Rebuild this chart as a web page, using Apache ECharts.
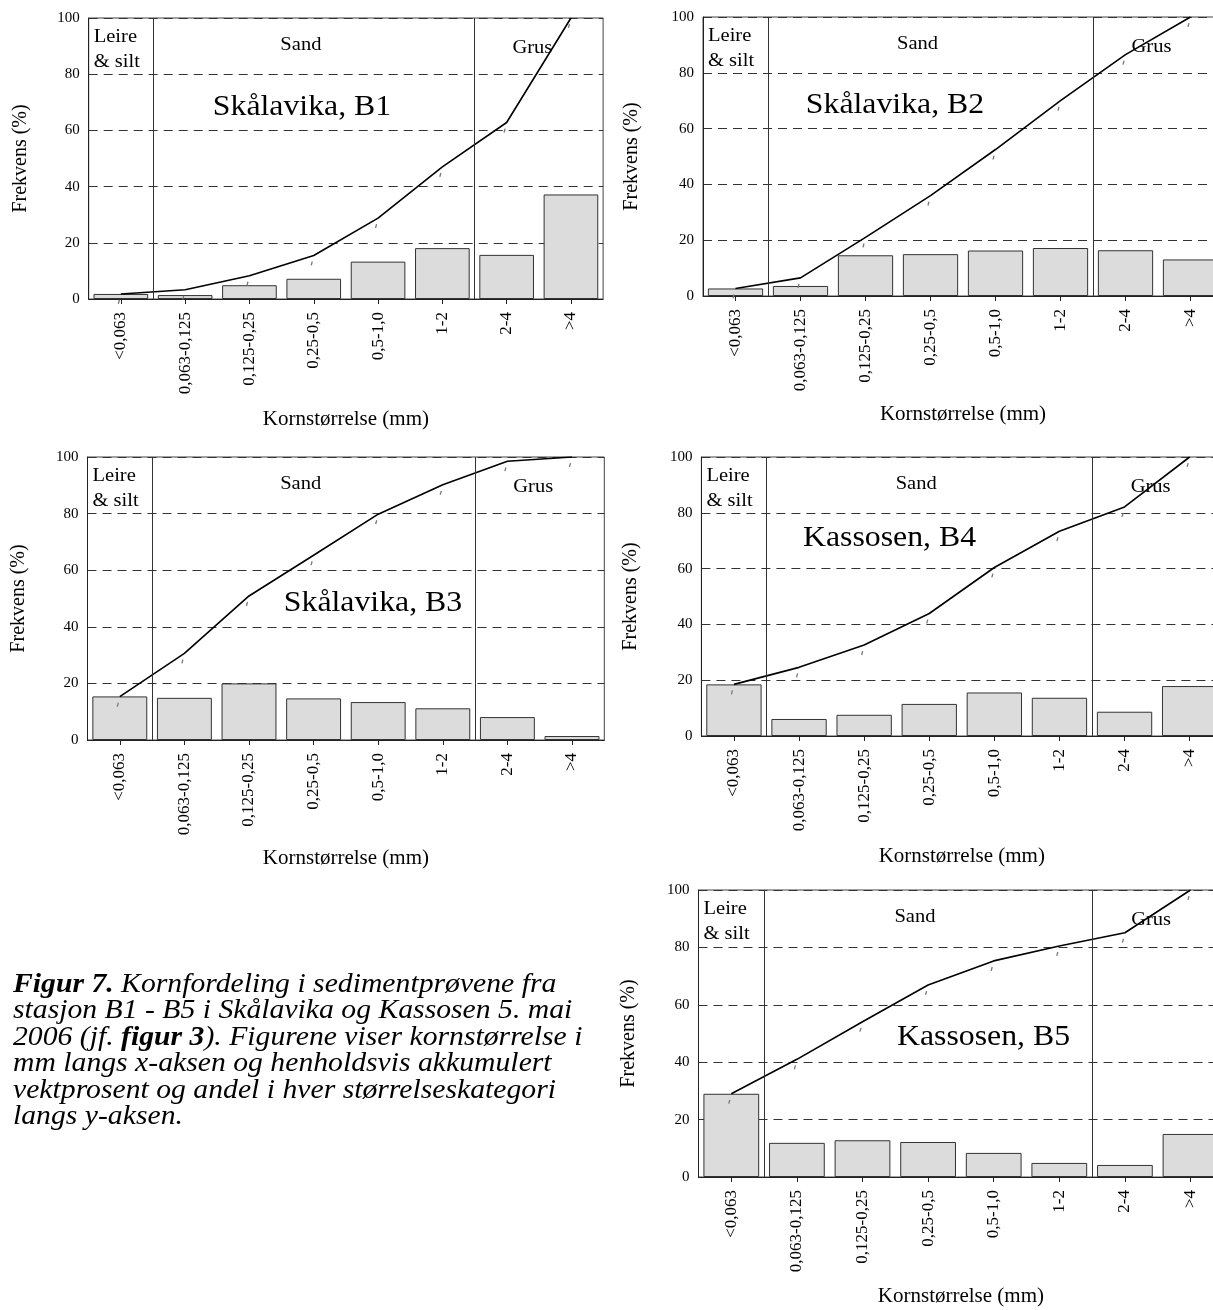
<!DOCTYPE html>
<html>
<head>
<meta charset="utf-8">
<script src="https://cdn.jsdelivr.net/npm/echarts@6/dist/echarts.min.js"></script>
<style>
html,body{margin:0;padding:0;background:#fff;}
#chart{width:1213px;height:1310px;}
</style>
</head>
<body>
<div id="chart"></div>
<script>
// ---- data ----
const categories = ['<0,063', '0,063-0,125', '0,125-0,25', '0,25-0,5', '0,5-1,0', '1-2', '2-4', '>4'];
const stations = ['Skålavika, B1', 'Skålavika, B2', 'Skålavika, B3', 'Kassosen, B4', 'Kassosen, B5'];
const b1Bars = [1.8, 1.4, 4.9, 7.2, 13.3, 18.1, 15.7, 37.2];
const b1Cum  = [1.8, 3.3, 8.3, 15.5, 28.8, 47.0, 62.8, 100];
const b2Bars = [2.7, 3.6, 14.6, 15.0, 16.3, 17.2, 16.4, 13.1];
const b2Cum  = [2.7, 6.5, 21.0, 36.0, 52.5, 70.0, 86.5, 100];
const b3Bars = [15.4, 14.9, 20.0, 14.7, 13.4, 11.2, 8.1, 1.4];
const b3Cum  = [15.3, 30.6, 50.9, 65.3, 79.8, 90.2, 98.5, 100];
const b4Bars = [18.5, 6.1, 7.6, 11.5, 15.6, 13.7, 8.7, 17.9];
const b4Cum  = [18.5, 24.6, 32.6, 43.9, 60.4, 73.4, 82.1, 100];
const b5Bars = [29.0, 11.9, 12.8, 12.2, 8.4, 4.9, 4.2, 15.0];
const b5Cum  = [29.0, 41.0, 54.1, 66.9, 75.3, 80.5, 85.1, 100];
const classBoundaries = [1, 6];          // Leire & silt | Sand | Grus (in category units)
const yTicks = [0, 20, 40, 60, 80, 100];
const xAxisName = 'Kornstørrelse (mm)';
const yAxisName = 'Frekvens (%)';
const classLabels = ['Leire', '& silt', 'Sand', 'Grus'];
const captionLines = [
  '{b|Figur 7.} Kornfordeling i sedimentprøvene fra',
  'stasjon B1 - B5 i Skålavika og Kassosen 5. mai',
  '2006 (jf. {b|figur 3}). Figurene viser kornstørrelse i',
  'mm langs x-aksen og henholdsvis akkumulert',
  'vektprosent og andel i hver størrelseskategori',
  'langs y-aksen.'
];
const barSets = [b1Bars, b2Bars, b3Bars, b4Bars, b5Bars];
const cumSets = [b1Cum, b2Cum, b3Cum, b4Cum, b5Cum];

// ---- layout (pixels) ----
const FONT = "'Liberation Serif','Times New Roman',serif";
const panels = [
  {left: 88.7, top: 18,  width: 514.4, height: 281, title: [302, 107],   xGap: 110, yGap: 58},
  {left: 703,  top: 17,  width: 520,   height: 279, title: [895, 105],   xGap: 108, yGap: 61},
  {left: 87.5, top: 457, width: 516.8, height: 283, title: [373, 603],   xGap: 108, yGap: 59},
  {left: 701.4,top: 457, width: 520.8, height: 279, title: [889.5, 538], xGap: 110, yGap: 61},
  {left: 698.5,top: 890, width: 524.8, height: 287, title: [983.5, 1037],xGap: 109, yGap: 60}
];

const grids = [], xAxes = [], yAxes = [], series = [], graphics = [];
panels.forEach((p, i) => {
  grids.push({left: p.left, top: p.top, width: p.width, height: p.height,
    containLabel: false, outerBoundsMode: 'none',
    show: true, borderColor: '#444', borderWidth: 1, backgroundColor: 'transparent'});
  // category axis
  xAxes.push({
    type: 'category', gridIndex: i, data: categories,
    axisLine: {show: true, lineStyle: {color: '#222', width: 1}},
    axisTick: {show: true, alignWithLabel: true, length: 5, lineStyle: {color: '#222'}},
    axisLabel: {rotate: 90, fontSize: 17, fontFamily: FONT, color: '#000', margin: 13, interval: 0},
    name: xAxisName, nameLocation: 'middle', nameGap: p.xGap,
    nameTextStyle: {fontSize: 21, fontFamily: FONT, color: '#000'},
    splitLine: {show: false}
  });
  // hidden value axis for class boundary lines
  xAxes.push({type: 'value', gridIndex: i, min: 0, max: categories.length, show: false});
  yAxes.push({
    type: 'value', gridIndex: i, min: yTicks[0], max: yTicks[yTicks.length - 1], interval: 20,
    axisLine: {show: true, lineStyle: {color: '#222', width: 1}},
    axisTick: {show: false},
    axisLabel: {fontSize: 15, fontFamily: FONT, color: '#000', margin: 9},
    splitLine: {show: true, lineStyle: {color: '#333', type: [9, 6], width: 1}},
    name: yAxisName, nameLocation: 'middle', nameGap: p.yGap,
    nameTextStyle: {fontSize: 20, fontFamily: FONT, color: '#000'}
  });
  series.push({
    type: 'bar', xAxisIndex: 2 * i, yAxisIndex: i, data: barSets[i],
    barCategoryGap: '15%',
    itemStyle: {color: '#dcdcdc', borderColor: '#333', borderWidth: 1},
    silent: true, z: 2
  });
  series.push({
    type: 'line', xAxisIndex: 2 * i, yAxisIndex: i, data: cumSets[i],
    lineStyle: {color: '#000', width: 1.6},
    symbol: 'rect', symbolSize: [1.3, 4], symbolOffset: [-2, 8], symbolRotate: -15,
    itemStyle: {color: '#777'}, showSymbol: true,
    silent: true, z: 4, animation: false
  });
  series.push({
    type: 'line', xAxisIndex: 2 * i + 1, yAxisIndex: i, data: [],
    markLine: {
      symbol: 'none', silent: true, label: {show: false},
      lineStyle: {color: '#333', type: 'solid', width: 1},
      data: classBoundaries.map(b => ({xAxis: b}))
    },
    z: 3
  });
  const band = p.width / categories.length;
  const txt = (t, x, y, size, align, sx) => ({
    type: 'text', x: x, y: y, scaleX: sx, silent: true, z: 10,
    style: {text: t, fontSize: size, fontFamily: FONT, fill: '#000',
      align: align, verticalAlign: 'middle', textAlign: align, textVerticalAlign: 'middle'}
  });
  graphics.push(txt(classLabels[0], p.left + 5, p.top + 19, 19, 'left', 1.08));
  graphics.push(txt(classLabels[1], p.left + 5, p.top + 44, 19, 'left', 1.08));
  graphics.push(txt(classLabels[2], p.left + 3.3 * band, p.top + 27, 19, 'center', 1.08));
  graphics.push(txt(classLabels[3], p.left + 6.9 * band, p.top + 30, 19, 'center', 1.08));
  graphics.push(txt(stations[i], p.title[0], p.title[1], 30, 'center', 1.06));
});

captionLines.forEach((line, k) => {
  graphics.push({
    type: 'text', x: 13, y: 985 + k * 26.4, scaleX: 1.1, silent: true, z: 10,
    style: {
      text: line, fontSize: 27, fontFamily: FONT, fontStyle: 'italic', fill: '#000',
      align: 'left', verticalAlign: 'middle', textAlign: 'left', textVerticalAlign: 'middle',
      rich: {b: {fontSize: 27, fontFamily: FONT, fontStyle: 'italic', fontWeight: 'bold', fill: '#000'}}
    }
  });
});

const chart = echarts.init(document.getElementById('chart'), null, {renderer: 'canvas'});
chart.setOption({
  animation: false,
  backgroundColor: '#fff',
  grid: grids, xAxis: xAxes, yAxis: yAxes, series: series, graphic: graphics
});
</script>
</body>
</html>
